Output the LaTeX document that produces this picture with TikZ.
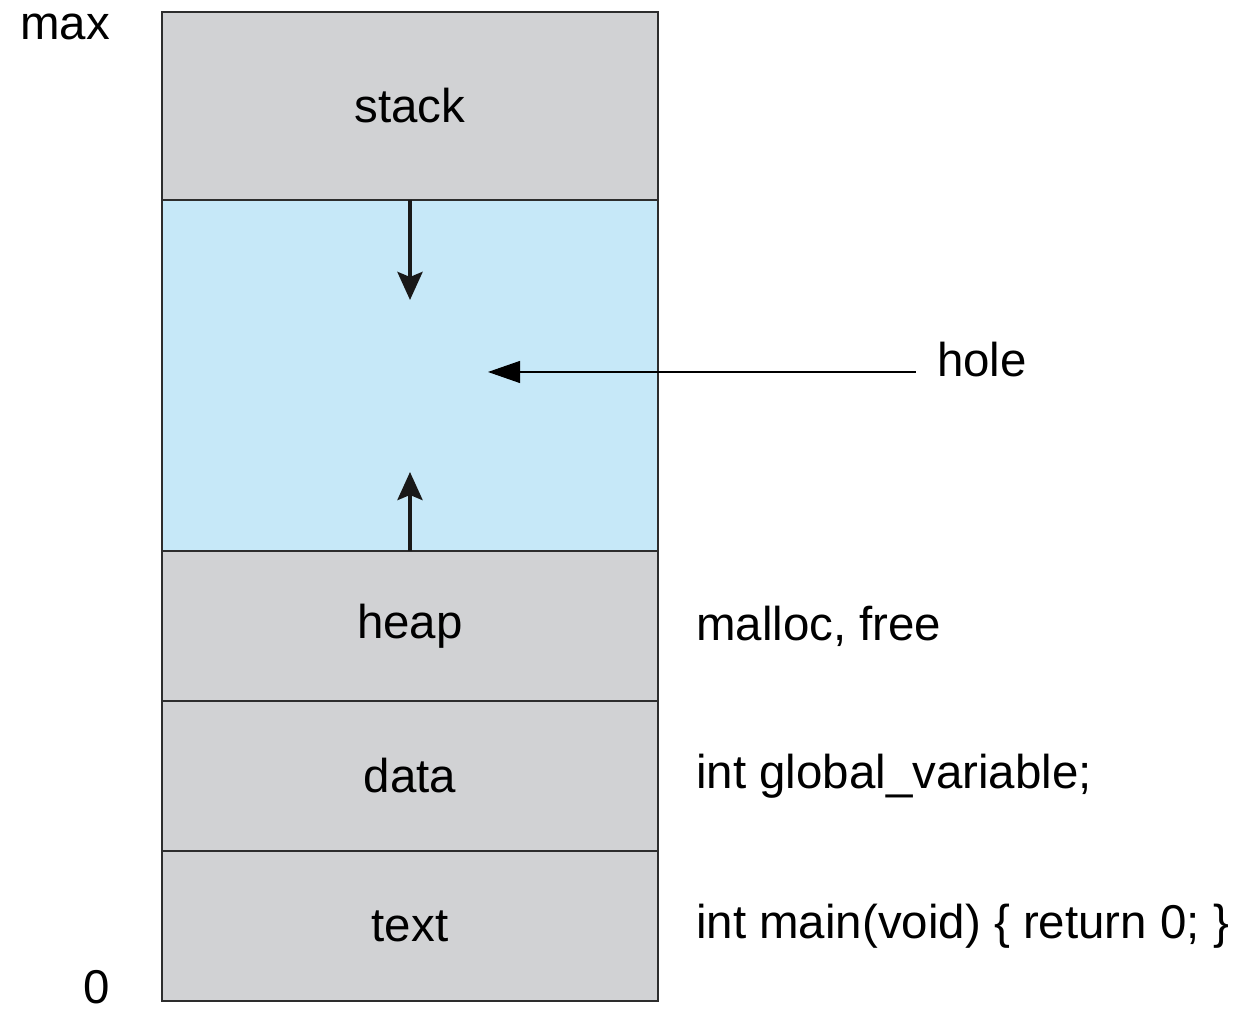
\documentclass[tikz,border=0pt]{standalone}
\usepackage{fontspec}
\setmainfont{Liberation Sans}
\usepackage{tikz}
\usetikzlibrary{positioning,arrows.meta}

\definecolor{segGray}{RGB}{209,210,212}
\definecolor{holeBlue}{RGB}{198,232,248}
\definecolor{edgeDark}{RGB}{45,45,45}

\begin{document}
\begin{tikzpicture}[
  every node/.style={font=\fontsize{27}{32}\selectfont},
  seg/.style={draw=edgeDark, line width=1.1pt, fill=segGray, minimum width=9.92cm, outer sep=0pt, inner sep=0pt},
  growarrow/.style={draw=black!90, line width=2.4pt, -{Stealth[length=0.56cm,width=0.5cm,inset=0.1cm]}},
  ptr/.style={line width=0.6pt, -{Triangle[length=0.64cm,width=0.44cm]}}
]
\useasboundingbox (0,0) rectangle (24.82,20.36);
% address space, top to bottom
\node[seg, minimum height=3.76cm, anchor=north] (stack) at (8.2,20.12) {stack};
\node[seg, minimum height=7.02cm, fill=holeBlue, below=0pt of stack] (hole) {};
\node[seg, minimum height=3cm, below=0pt of hole] (heap) {heap};
\node[seg, minimum height=3cm, below=0pt of heap] (data) {data};
\node[seg, minimum height=3cm, below=0pt of data] (text) {text};
% ends of the range
\node (maxlbl) at (1.30,19.82) {max};
\node[inner sep=1pt] (zerolbl) at (1.94,0.62) {0};
% growth of stack and heap
\coordinate (stackend) at ([yshift=-2cm]hole.north);
\coordinate (heapend) at ([yshift=1.58cm]hole.south);
\draw[growarrow] (hole.north) -- (stackend);
\draw[growarrow] (hole.south) -- (heapend);
% hole pointer
\coordinate (holetip) at (9.76,12.92);
\node (holelbl) at (19.64,13.16) {hole};
\draw[ptr] ([xshift=-0.3cm]holelbl.west |- holetip) -- (holetip);
% notes
\node[right=0.64cm of heap] (heapnote) {malloc, free};
\node[right=0.64cm of data] (datanote) {int global\_variable;};
\node[right=0.64cm of text] (textnote) {int main(void) \{ return 0; \}};
\end{tikzpicture}
\end{document}
